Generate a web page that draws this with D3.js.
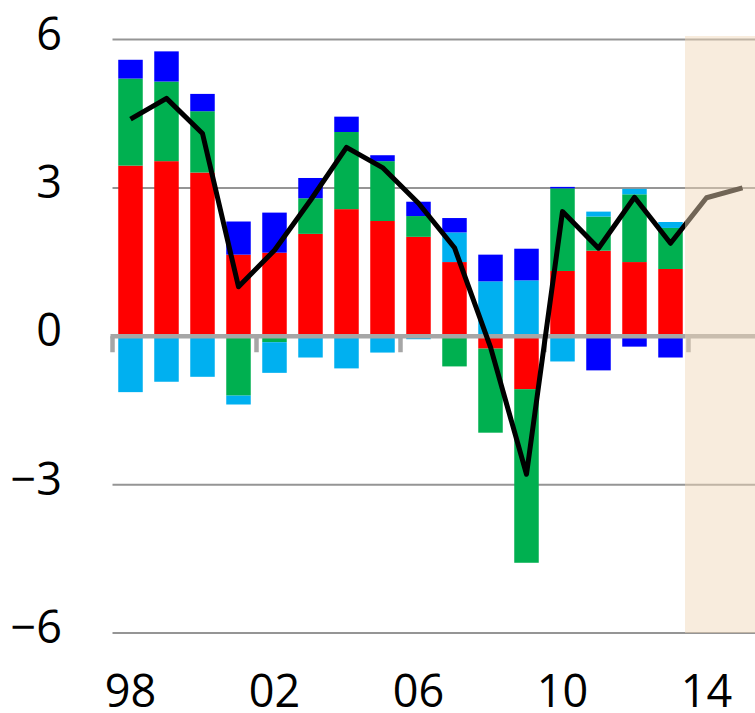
<!DOCTYPE html>
<html>
<head>
<meta charset="utf-8">
<script src="https://cdn.jsdelivr.net/npm/d3@7/dist/d3.min.js"></script>
<style>
  body { margin: 0; background: #fff; }
  svg text { font-family: "Open Sans", "Noto Sans", sans-serif; fill: #000; }
</style>
</head>
<body>
<svg id="chart" width="755" height="713"></svg>
<script>
// contributions by component, 1998-2013
var years = d3.range(1998, 2014);
var red = [3.45, 3.54, 3.31, 1.65, 1.69, 2.07, 2.57, 2.33, 2.01, 1.50, -0.25, -1.07, 1.32, 1.73, 1.50, 1.36];
var green = [1.76, 1.61, 1.24, -1.20, -0.12, 0.72, 1.56, 1.21, 0.42, -0.61, -1.70, -3.51, 1.67, 0.69, 1.37, 0.83];
var lightBlue = [-1.13, -0.92, -0.82, -0.18, -0.62, -0.43, -0.65, -0.33, -0.06, 0.60, 1.11, 1.13, -0.51, 0.10, 0.11, 0.12];
var blue = [0.38, 0.61, 0.35, 0.67, 0.81, 0.41, 0.31, 0.12, 0.29, 0.29, 0.54, 0.64, 0.03, -0.69, -0.21, -0.43];

// total line, 1998-2015 (last two are forecasts)
var lineYears = d3.range(1998, 2016);
var total = [4.39, 4.81, 4.10, 1.00, 1.74, 2.75, 3.82, 3.41, 2.69, 1.79, -0.22, -2.79, 2.52, 1.78, 2.81, 1.88, 2.80, 3.00];

var yTicks = [6, 3, 0, -3, -6];
var xTickYears = [1998, 2002, 2006, 2010, 2014];
var xTickLabels = ["98", "02", "06", "10", "14"];
var forecastStart = 2014;

var keys = ["red", "green", "lightBlue", "blue"];
var colors = { red: "#ff0000", green: "#00b050", lightBlue: "#00b0f0", blue: "#0000ff" };

var svg = d3.select("#chart");

var x = d3.scaleLinear().domain([1997.5, 2015.5]).range([112.5, 760.5]);
var y = d3.scaleLinear().domain([-6, 6]).range([633, 39.5]);
var barW = 24.5;

var rows = years.map(function(yr, i) {
  return { year: yr, red: red[i], green: green[i], lightBlue: lightBlue[i], blue: blue[i] };
});

var stack = d3.stack().keys(keys).offset(d3.stackOffsetDiverging);
var series = stack(rows);

// gridlines
svg.append("g")
  .selectAll("line")
  .data(yTicks.filter(function(d) { return d !== 0; }))
  .enter()
  .append("line")
  .attr("x1", x(1997.5))
  .attr("x2", 755)
  .attr("y1", function(d) { return y(d); })
  .attr("y2", function(d) { return y(d); })
  .attr("stroke", "#959595")
  .attr("stroke-width", 2);

// y labels
svg.append("g")
  .selectAll("text")
  .data(yTicks)
  .enter()
  .append("text")
  .attr("x", 62)
  .attr("y", function(d) { return y(d) + 10; })
  .attr("text-anchor", "end")
  .attr("font-size", 45)
  .text(function(d) { return d < 0 ? "\u2212" + Math.abs(d) : d; });

// stacked bars
svg.append("g")
  .selectAll("g")
  .data(series)
  .enter()
  .append("g")
  .attr("fill", function(s) { return colors[s.key]; })
  .selectAll("rect")
  .data(function(s) { return s; })
  .enter()
  .append("rect")
  .attr("x", function(d) { return x(d.data.year) - barW / 2; })
  .attr("width", barW)
  .attr("y", function(d) { return y(Math.max(d[0], d[1])); })
  .attr("height", function(d) { return Math.abs(y(d[0]) - y(d[1])); });

// zero axis with ticks
var axisG = svg.append("g").attr("stroke", "#a6a6a6").attr("stroke-width", 4.5);
axisG.append("line")
  .attr("x1", x(1997.5) - 2)
  .attr("x2", 755)
  .attr("y1", y(0))
  .attr("y2", y(0));
axisG.selectAll("line.tick")
  .data(xTickYears)
  .enter()
  .append("line")
  .attr("class", "tick")
  .attr("x1", function(d) { return x(d - 0.5); })
  .attr("x2", function(d) { return x(d - 0.5); })
  .attr("y1", y(0))
  .attr("y2", y(0) + 16);

// total line
var line = d3.line()
  .x(function(d, i) { return x(lineYears[i]); })
  .y(function(d) { return y(d); });

svg.append("path")
  .datum(total)
  .attr("d", line)
  .attr("fill", "none")
  .attr("stroke", "#000")
  .attr("stroke-width", 5)
  .attr("stroke-linejoin", "round");

// forecast shading
svg.append("rect")
  .attr("x", x(forecastStart - 0.5) - 3.5)
  .attr("y", 36)
  .attr("width", 755 - (x(forecastStart - 0.5) - 3.5))
  .attr("height", y(-6) - 36)
  .attr("fill", "rgb(240,214,183)")
  .attr("opacity", 0.47);

// x labels
svg.append("g")
  .selectAll("text")
  .data(xTickYears)
  .enter()
  .append("text")
  .attr("x", function(d) { return x(d); })
  .attr("y", 707)
  .attr("text-anchor", "middle")
  .attr("font-size", 45)
  .text(function(d, i) { return xTickLabels[i]; });
</script>
</body>
</html>
